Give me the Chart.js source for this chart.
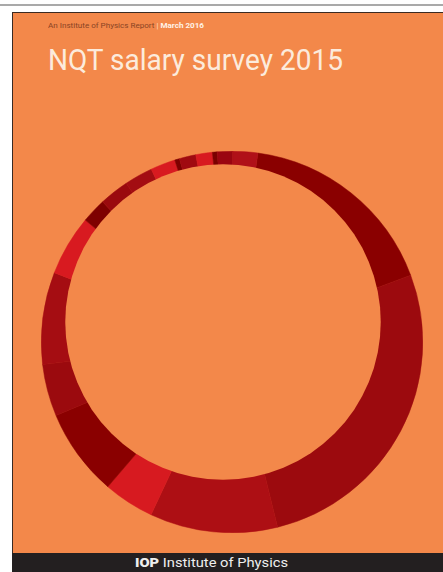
<!DOCTYPE html>
<html>
<head>
<meta charset="utf-8">
<script src="https://cdn.jsdelivr.net/npm/chart.js@4"></script>
<style>
  body { margin: 0; background: #fff; width: 443px; height: 572px; overflow: hidden; position: relative; font-family: Roboto, sans-serif; }
  .topline { position: absolute; left: 0; top: 4px; width: 443px; height: 2px; background: #a9a9a9; }
  .cover { position: absolute; left: 12px; top: 12px; width: 431px; height: 541px; background: #f3884a; border-left: 1px solid #3a2a22; border-top: 1px solid #3a2a22; }
  .kicker { position: absolute; left: 48px; top: 21px; font-size: 8px; color: #8a4424; white-space: nowrap; transform-origin: left top; }
  .kicker b { color: #fff3e8; font-weight: bold; }
  .kicker span { color: #fbd9c0; margin: 0 2px; }
  .title { position: absolute; left: 48px; top: 42px; font-size: 30px; color: #fcebdc; white-space: nowrap; font-weight: 400; transform-origin: left top; }
  .footer { position: absolute; left: 12px; top: 553px; width: 431px; height: 19px; background: #231f20; }
  .footer div { position: absolute; left: 123px; top: 0; color: #eeeeee; font-size: 12.5px; line-height: 19px; white-space: nowrap; transform-origin: left top; }
  .footer b { font-weight: 900; }
  #ring { position: absolute; left: 41px; top: 151px; }
</style>
</head>
<body>
<div class="topline"></div>
<div class="cover"></div>
<div class="kicker" id="kicker">An Institute of Physics Report<span>|</span><b>March 2016</b></div>
<div class="title" id="title">NQT salary survey 2015</div>
<canvas id="ring" width="382" height="382"></canvas>
<div class="footer"><div id="foot"><b>IOP</b> Institute of Physics</div></div>

<script>
// segments read clockwise from the top of the ring (share of the ring, %)
const segLabels = ["S1","S2","S3","S4","S5","S6","S7","S8","S9","S10","S11","S12","S13","S14","S15","S16","S17","S18"];
const segValues = [17.1, 26.8, 10.8, 4.3, 7.4, 4.4, 7.8, 5.1, 2.1, 2.5, 2.4, 2.1, 0.4, 1.4, 1.4, 0.4, 1.3, 2.1];
const segColors = ["#8a0000", "#9c0a0e", "#ad0f14", "#d71a20", "#8a0000", "#9b0a0e", "#a50d12", "#d81a20", "#7e0000",
                   "#9a0a0e", "#a30d12", "#d81a20", "#7e0000", "#a00a10", "#d81a20", "#7a0000", "#9a0510", "#b01018"];
const startAngle = 7.8;

// the hole is not centred, so the ring is thin at the top and thick at the bottom right
const holeShift = { x: -9, y: -20 };
const holeRatio = 0.827;

const holePlugin = {
  id: "hole",
  afterDatasetsDraw(chart) {
    const arc = chart.getDatasetMeta(0).data[0];
    const ctx = chart.ctx;
    ctx.save();
    ctx.beginPath();
    ctx.arc(arc.x + holeShift.x, arc.y + holeShift.y, arc.outerRadius * holeRatio, 0, Math.PI * 2);
    ctx.fillStyle = "#f3884a";
    ctx.fill();
    ctx.restore();
  }
};

new Chart("ring", {
  type: "pie",
  data: {
    labels: segLabels,
    datasets: [{
      data: segValues,
      backgroundColor: segColors,
      borderColor: segColors,
      borderWidth: 0.5
    }]
  },
  options: {
    responsive: false,
    animation: false,
    rotation: startAngle,
    layout: { padding: 0 },
    plugins: {
      legend: { display: false },
      tooltip: { enabled: false }
    }
  },
  plugins: [holePlugin]
});

// squeeze texts to the widths they have on the cover
function fitWidth(id, target) {
  const el = document.getElementById(id);
  el.style.transform = "scaleX(" + (target / el.getBoundingClientRect().width) + ")";
}
fitWidth("title", 295);
fitWidth("kicker", 156);
fitWidth("foot", 153);
</script>
</body>
</html>
